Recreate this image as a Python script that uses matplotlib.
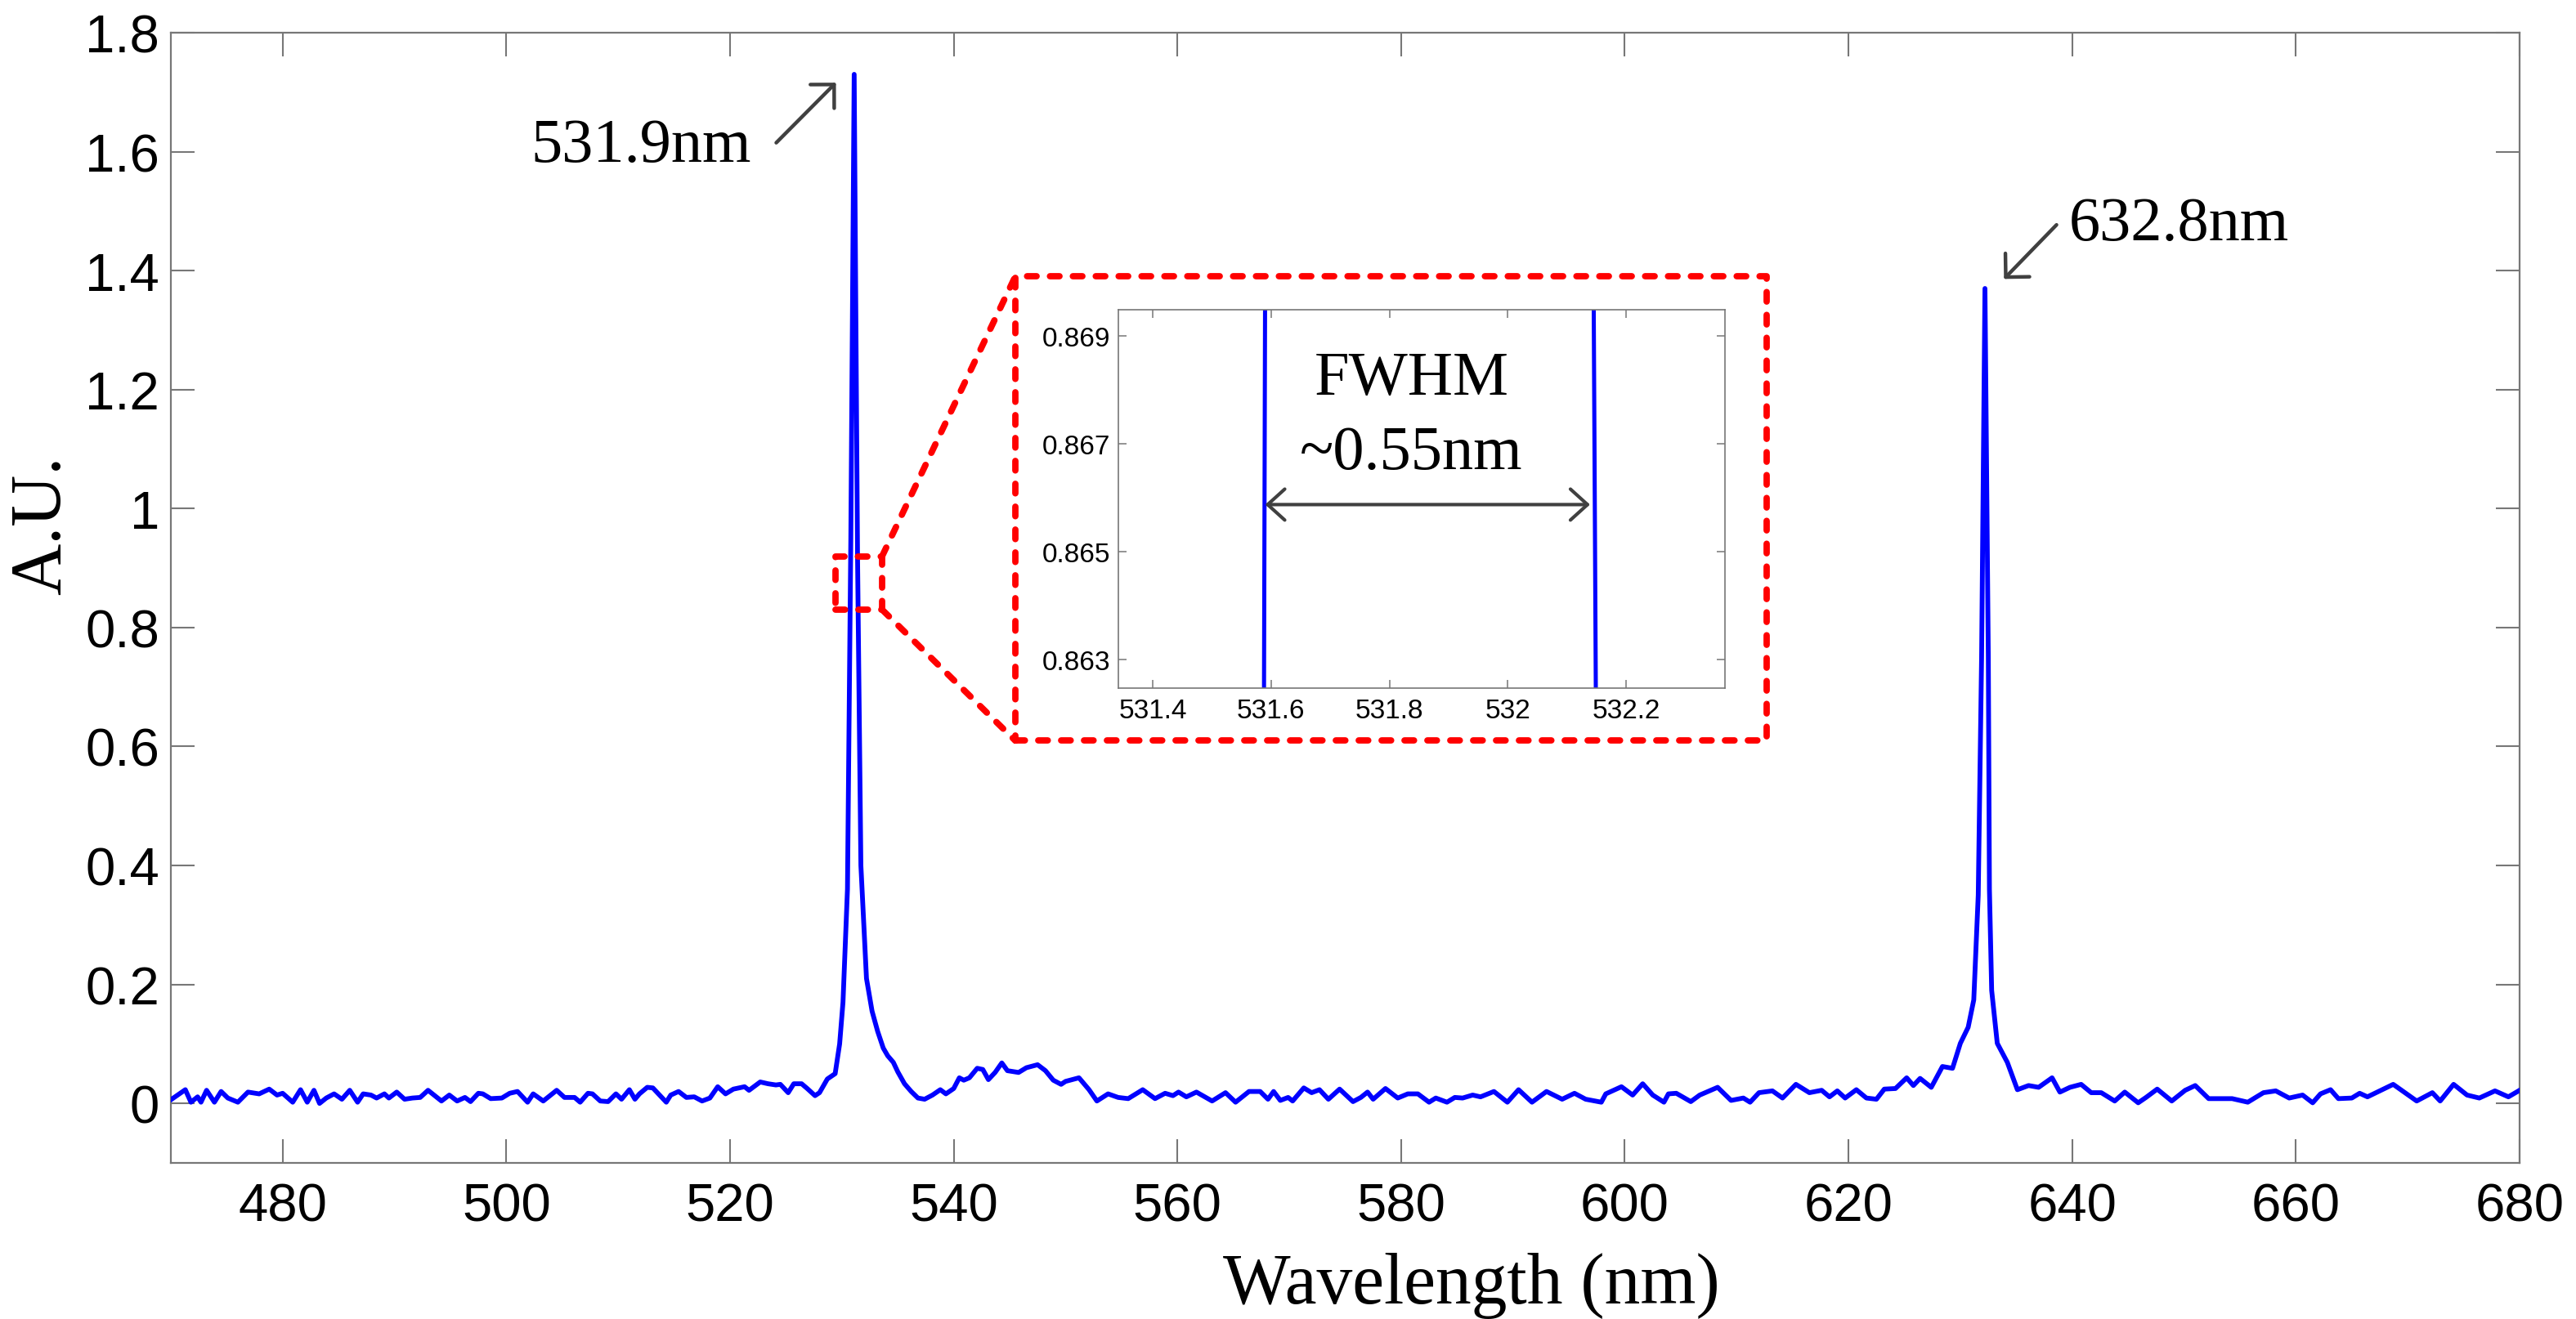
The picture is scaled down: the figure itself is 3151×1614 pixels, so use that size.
import numpy as np
import matplotlib
matplotlib.use("Agg")
import matplotlib.pyplot as plt
from matplotlib.ticker import FormatStrFormatter

plt.rcParams["font.family"] = ["Liberation Sans", "DejaVu Sans"]
SERIF = ["Liberation Serif", "DejaVu Serif"]

# ---------------------------------------------------------------
# Spectrum (nm, arbitrary units)
# ---------------------------------------------------------------
wavelength_nm = [
    470.0, 471.3, 471.8, 472.4, 472.7, 473.2, 473.9, 474.5, 475.1, 476.0,
    476.9, 477.9, 478.8, 479.5, 480.0, 480.9, 481.6, 482.2, 482.8, 483.3,
    483.9, 484.6, 485.3, 486.0, 486.7, 487.2, 487.9, 488.4, 489.1, 489.5,
    490.2, 490.9, 491.6, 492.3, 493.0, 494.2, 494.9, 495.6, 496.3, 496.8,
    497.5, 497.9, 498.6, 499.6, 500.3, 501.0, 501.9, 502.4, 503.3, 504.5,
    505.2, 506.1, 506.6, 507.3, 507.7, 508.4, 509.1, 509.8, 510.3, 511.0,
    511.5, 511.9, 512.6, 513.1, 513.6, 514.3, 514.7, 515.4, 516.1, 516.8,
    517.5, 518.2, 518.9, 519.6, 520.3, 521.3, 521.7, 522.7, 523.4, 524.1,
    524.5, 525.2, 525.7, 526.4, 526.9, 527.6, 528.0, 528.7, 529.4, 529.8,
    530.1, 530.5, 530.8, 531.1, 531.4, 531.7, 532.2, 532.7, 533.2, 533.7,
    534.1, 534.6, 535.0, 535.6, 536.2, 536.8, 537.4, 538.1, 538.8, 539.3,
    540.0, 540.5, 540.9, 541.4, 542.1, 542.6, 543.1, 543.7, 544.3, 544.8,
    545.8, 546.5, 547.5, 548.2, 548.9, 549.6, 550.0, 551.2, 552.1, 552.8,
    553.8, 554.7, 555.6, 556.9, 558.0, 558.9, 559.6, 560.1, 560.8, 561.7,
    563.1, 564.3, 565.2, 566.4, 567.4, 568.1, 568.6, 569.2, 569.9, 570.3,
    571.3, 572.0, 572.7, 573.5, 574.5, 575.7, 576.4, 577.0, 577.5, 578.6,
    579.7, 580.6, 581.5, 582.5, 583.1, 584.1, 584.8, 585.5, 586.4, 587.1,
    588.3, 589.5, 590.5, 591.7, 593.0, 594.4, 595.5, 596.5, 597.9, 598.3,
    599.7, 600.7, 601.6, 602.5, 603.5, 603.9, 604.6, 605.9, 606.7, 608.3,
    609.5, 610.6, 611.2, 612.0, 613.2, 614.1, 615.3, 616.5, 617.6, 618.3,
    619.0, 619.7, 620.7, 621.6, 622.5, 623.2, 624.2, 625.2, 625.8, 626.4,
    627.4, 628.4, 629.3, 630.0, 630.7, 631.2, 631.6, 631.9, 632.2, 632.5,
    632.6, 632.8, 633.3, 634.2, 635.1, 636.1, 637.0, 638.2, 638.9, 639.8,
    640.8, 641.7, 642.6, 643.8, 644.7, 645.9, 646.6, 647.6, 648.9, 650.1,
    651.0, 652.2, 653.1, 654.3, 655.7, 657.1, 658.2, 659.4, 660.6, 661.5,
    662.2, 663.1, 663.8, 665.0, 665.7, 666.4, 667.6, 668.7, 670.8, 672.2,
    672.9, 674.1, 675.3, 676.4, 677.8, 679.0, 680.0,
]
intensity_au = [
    0.006, 0.023, 0.002, 0.011, 0.002, 0.022, 0.002, 0.020, 0.009, 0.002,
    0.019, 0.016, 0.024, 0.014, 0.017, 0.002, 0.023, 0.002, 0.022, 0.000,
    0.009, 0.016, 0.007, 0.022, 0.002, 0.016, 0.014, 0.009, 0.016, 0.009,
    0.019, 0.007, 0.009, 0.010, 0.022, 0.004, 0.014, 0.004, 0.010, 0.003,
    0.017, 0.016, 0.008, 0.009, 0.017, 0.020, 0.002, 0.016, 0.004, 0.022,
    0.010, 0.010, 0.002, 0.017, 0.016, 0.004, 0.003, 0.016, 0.007, 0.023,
    0.007, 0.016, 0.027, 0.026, 0.016, 0.002, 0.014, 0.020, 0.010, 0.011,
    0.004, 0.009, 0.028, 0.016, 0.024, 0.028, 0.022, 0.036, 0.033, 0.031,
    0.032, 0.018, 0.033, 0.033, 0.025, 0.013, 0.018, 0.041, 0.050, 0.100,
    0.170, 0.360, 0.950, 1.730, 0.920, 0.400, 0.210, 0.155, 0.121, 0.093,
    0.080, 0.069, 0.053, 0.033, 0.020, 0.009, 0.007, 0.014, 0.023, 0.016,
    0.025, 0.043, 0.039, 0.043, 0.059, 0.057, 0.040, 0.052, 0.068, 0.055,
    0.052, 0.060, 0.065, 0.055, 0.039, 0.032, 0.037, 0.043, 0.023, 0.004,
    0.016, 0.010, 0.008, 0.023, 0.008, 0.017, 0.013, 0.019, 0.011, 0.019,
    0.004, 0.018, 0.002, 0.020, 0.020, 0.007, 0.020, 0.005, 0.010, 0.004,
    0.026, 0.018, 0.023, 0.007, 0.024, 0.003, 0.010, 0.019, 0.007, 0.025,
    0.009, 0.016, 0.016, 0.002, 0.009, 0.002, 0.010, 0.009, 0.014, 0.011,
    0.020, 0.002, 0.023, 0.002, 0.020, 0.007, 0.017, 0.007, 0.002, 0.016,
    0.028, 0.014, 0.033, 0.014, 0.002, 0.016, 0.017, 0.003, 0.014, 0.027,
    0.005, 0.009, 0.002, 0.018, 0.021, 0.009, 0.032, 0.018, 0.022, 0.011,
    0.021, 0.009, 0.023, 0.009, 0.007, 0.024, 0.025, 0.043, 0.030, 0.042,
    0.027, 0.062, 0.059, 0.101, 0.128, 0.174, 0.350, 0.750, 1.370, 0.750,
    0.360, 0.190, 0.101, 0.069, 0.023, 0.030, 0.027, 0.043, 0.019, 0.027,
    0.032, 0.018, 0.018, 0.004, 0.019, 0.001, 0.010, 0.024, 0.004, 0.022,
    0.030, 0.008, 0.008, 0.008, 0.002, 0.018, 0.021, 0.009, 0.014, 0.001,
    0.016, 0.023, 0.008, 0.009, 0.017, 0.011, 0.022, 0.032, 0.004, 0.018,
    0.004, 0.032, 0.014, 0.009, 0.021, 0.011, 0.022,
]

# zoomed view around half maximum of the 531.9 nm line
inset_left_nm = [531.588, 531.590]
inset_right_nm = [532.149, 532.145]
inset_au = [0.8620, 0.8700]
fwhm_edges_nm = [531.59, 532.139]
fwhm_level = 0.86587

x_ticks = [480, 500, 520, 540, 560, 580, 600, 620, 640, 660, 680]
y_ticks = [0, 0.2, 0.4, 0.6, 0.8, 1.0, 1.2, 1.4, 1.6, 1.8]
inset_x_ticks = [531.4, 531.6, 531.8, 532.0, 532.2]
inset_y_ticks = [0.863, 0.865, 0.867, 0.869]

# small marker box around the peak and the frame drawn round the inset
zoom_box = (529.4, 533.6, 0.83, 0.92)
inset_frame = (545.5, 612.7, 0.61, 1.39)

BLUE = "#0000ff"
GRAY = "#777777"
ARROW = "#404040"

fig = plt.figure(figsize=(31.51, 16.15), dpi=100)
ax = fig.add_axes([0.0663, 0.1183, 0.9118, 0.8563])

ax.plot(wavelength_nm, intensity_au, color=BLUE, lw=4.2, zorder=3)
ax.set_xlim(470, 680)
ax.set_ylim(-0.1, 1.8)
ax.set_xticks(x_ticks)
ax.set_yticks(y_ticks)
ax.yaxis.set_major_formatter(FormatStrFormatter("%g"))
ax.tick_params(direction="in", length=21, width=1.5, color=GRAY,
               top=True, right=True, labelsize=47)
ax.tick_params(axis="x", pad=17)
ax.tick_params(axis="y", pad=10)
for s in ax.spines.values():
    s.set_color(GRAY)
    s.set_linewidth(1.6)

fig.text(1800 / 3151, 1 - 1595 / 1615, "Wavelength (nm)", ha="center",
         va="baseline", fontsize=63, family=SERIF)
fig.text(52 / 3151, 1 - 643 / 1615, "A.U.", rotation=90, ha="center",
         va="center", fontsize=63, family=SERIF)

# peak labels
arrow_kw = dict(arrowstyle="->,head_length=0.4,head_width=0.4", mutation_scale=37,
                lw=3.2, color=ARROW, shrinkA=0, shrinkB=0)
ax.text(521.87, 1.585, "531.9nm", ha="right", va="baseline", fontsize=55, family=SERIF)
ax.annotate("", xy=(529.47, 1.716), xytext=(524.13, 1.615), arrowprops=arrow_kw)
ax.text(639.7, 1.453, "632.8nm", ha="left", va="baseline", fontsize=55, family=SERIF)
ax.annotate("", xy=(633.9, 1.386), xytext=(638.6, 1.477), arrowprops=arrow_kw)

# red dashed zoom markers
red_kw = dict(color="#ff0000", lw=5.6, ls=(0, (1.5, 2.1)), dash_capstyle="round", zorder=4)
bx0, bx1, by0, by1 = zoom_box
fx0, fx1, fy0, fy1 = inset_frame
ax.plot([bx0, bx1, bx1, bx0, bx0], [by0, by0, by1, by1, by0], **red_kw)
ax.plot([fx0, fx1, fx1, fx0, fx0], [fy0, fy0, fy1, fy1, fy0], **red_kw)
ax.plot([bx1, fx0], [by1, fy1], **red_kw)
ax.plot([bx1, fx0], [by0, fy0], **red_kw)

# inset
ins = fig.add_axes([1368 / 3151, 1 - 843 / 1615, 742 / 3151, 463 / 1615])
ins.plot(inset_left_nm, inset_au, color=BLUE, lw=3.6)
ins.plot(inset_right_nm, inset_au, color=BLUE, lw=3.6)
ins.set_xlim(531.342, 532.367)
ins.set_ylim(0.86247, 0.86948)
ins.set_xticks(inset_x_ticks)
ins.set_yticks(inset_y_ticks)
ins.xaxis.set_major_formatter(FormatStrFormatter("%g"))
ins.yaxis.set_major_formatter(FormatStrFormatter("%g"))
ins.tick_params(direction="in", length=7, width=1.1, color=GRAY,
                top=True, right=True, labelsize=24)
ins.tick_params(axis="x", pad=9)
ins.tick_params(axis="y", pad=7)
for s in ins.spines.values():
    s.set_color(GRAY)
    s.set_linewidth(1.2)

ins.annotate("", xy=(fwhm_edges_nm[0], fwhm_level), xytext=(fwhm_edges_nm[1], fwhm_level),
             arrowprops=dict(arrowstyle="<->,head_length=0.43,head_width=0.39",
                             mutation_scale=35, lw=3.0, color=ARROW,
                             shrinkA=0, shrinkB=0))
ins.text(531.837, 0.86792, "FWHM", ha="center", va="baseline", fontsize=55, family=SERIF)
ins.text(531.837, 0.86655, "~0.55nm", ha="center", va="baseline", fontsize=55, family=SERIF)

fig.savefig("out.png", dpi=100)
